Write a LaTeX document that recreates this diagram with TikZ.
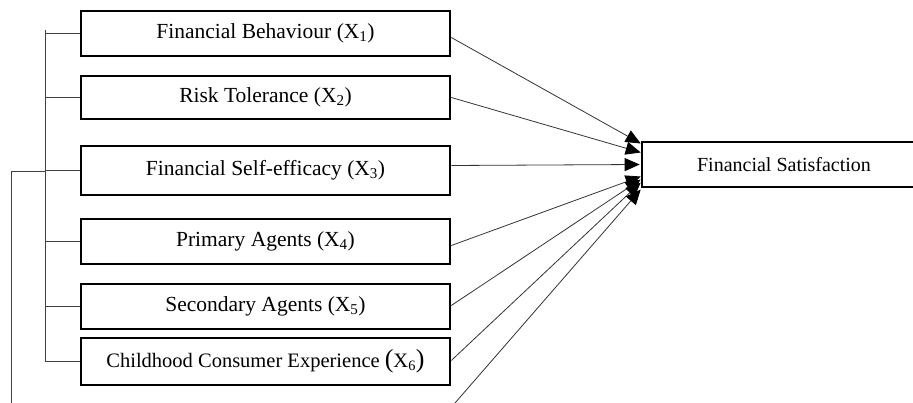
\documentclass[tikz,border=0pt]{standalone}
\usepackage{fontspec}
\setmainfont{Liberation Serif}
\usetikzlibrary{arrows.meta}
\begin{document}
\begin{tikzpicture}[x=1pt,y=-1pt,
  box/.style={draw, line width=2.6pt, minimum width=369pt, inner sep=0pt,
    font=\fontsize{21.5}{24}\selectfont},
  con/.style={line width=0.8pt, draw=black!75},
  arr/.style={line width=0.8pt, draw=black!80, -{Triangle[length=15pt,width=13pt,fill=black,color=black]}}]
\useasboundingbox (0,0) rectangle (913,403);
% predictor boxes
\node[box, minimum height=45pt] (b1) at (265.5,33.5) {Financial Behaviour (X\textsubscript{1})};
\node[box, minimum height=43pt] (b2) at (265.5,97.5) {Risk Tolerance (X\textsubscript{2})};
\node[box, minimum height=49pt] (b3) at (265.5,170.5) {Financial Self-efficacy (X\textsubscript{3})};
\node[box, minimum height=45pt] (b4) at (265.5,241.5) {Primary Agents (X\textsubscript{4})};
\node[box, minimum height=45pt] (b5) at (265.5,306.5) {Secondary Agents (X\textsubscript{5})};
\node[box, minimum height=47pt, font=\fontsize{20.5}{24}\selectfont] (b6) at (265.5,361.5)
  {Childhood Consumer Experience {\fontsize{26}{24}\selectfont(}X\textsubscript{6}{\fontsize{26}{24}\selectfont)}};
% outcome box
\node[box, minimum width=284pt, minimum height=45pt, font=\fontsize{20}{24}\selectfont] (t) at (784,164.5) {Financial Satisfaction};
% bracket
\coordinate (bt) at (45,30);
\coordinate (bb) at (45,361.5);
\draw[con] (bt) -- (bb);
\foreach \i in {1,...,6} { \draw[con] (b\i.west) -- (b\i.west -| bt); }
\coordinate (o1) at (45,171);
\coordinate (o2) at (11,171);
\coordinate (o3) at (11,403);
\draw[con] (o1) -- (o2) -- (o3);
% arrows
\coordinate (s7) at (455,403);
\draw[arr] ([yshift=-4pt]b1.east) -- ([yshift=21pt]t.west);
\draw[arr] (b2.east) -- ([yshift=12pt]t.west);
\draw[arr] ([yshift=5pt]b3.east) -- ([xshift=-1pt]t.west);
\draw[arr] ([yshift=-4pt]b4.east) -- ([yshift=-12pt]t.west);
\draw[arr] ([yshift=1pt]b5.east) -- ([yshift=-15pt]t.west);
\draw[arr] ([yshift=1pt]b6.east) -- ([yshift=-18pt]t.west);
\draw[arr] (s7) -- ([yshift=-25pt]t.west);
\end{tikzpicture}
\end{document}
